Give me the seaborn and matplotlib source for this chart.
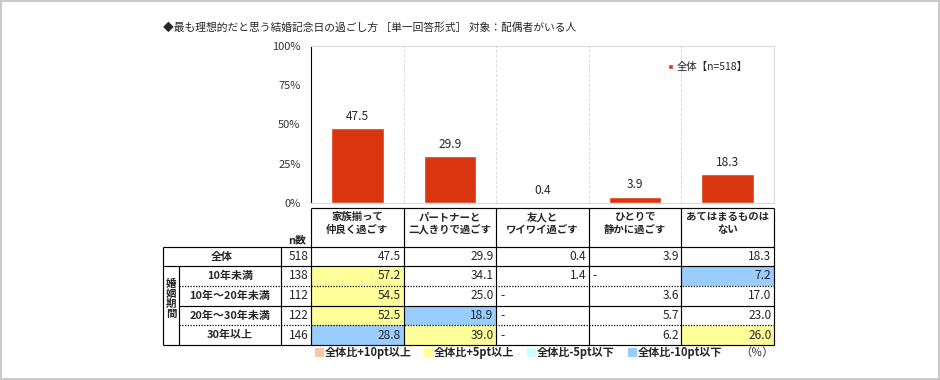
import matplotlib
matplotlib.use("Agg")
import matplotlib.pyplot as plt
import seaborn as sns
import numpy as np
import pandas as pd
from matplotlib.patches import Rectangle

# ---------------- data ----------------
title = "◆最も理想的だと思う結婚記念日の過ごし方 ［単一回答形式］ 対象：配偶者がいる人"
categories = ["家族揃って\n仲良く過ごす", "パートナーと\n二人きりで過ごす", "友人と\nワイワイ過ごす",
              "ひとりで\n静かに過ごす", "あてはまるものは\nない"]
overall_label = "全体"
overall_n = 518
overall_values = [47.5, 29.9, 0.4, 3.9, 18.3]
series_label = "全体【n=518】"
group_label = "婚姻期間"
row_labels = ["10年未満", "10年～20年未満", "20年～30年未満", "30年以上"]
row_n = [138, 112, 122, 146]
row_under10 = [57.2, 34.1, 1.4, None, 7.2]
row_10to20 = [54.5, 25.0, None, 3.6, 17.0]
row_20to30 = [52.5, 18.9, None, 5.7, 23.0]
row_30plus = [28.8, 39.0, None, 6.2, 26.0]
yticks = [0, 25, 50, 75, 100]
ytick_labels = ["0%", "25%", "50%", "75%", "100%"]
legend_labels = ["全体比+10pt以上", "全体比+5pt以上", "全体比-5pt以下", "全体比-10pt以下"]
unit_label = "（％）"
n_label = "n数"

# ---------------- style ----------------
sns.set_theme(style="white")
plt.rcParams["font.family"] = ["Noto Sans CJK JP", "DejaVu Sans"]
BAR_COLOR = "#D9360F"
C_P10, C_P5, C_M5, C_M10 = "#F8C8A4", "#FFFF99", "#CCFFFF", "#99CCFF"
legend_colors = [C_P10, C_P5, C_M5, C_M10]
GRAY = "#D9D9D9"
FS_HEAD = 7.5
FS_LAB = 7.9
FS_NUM = 8.6
FS_LEG = 8.0

W, H = 940, 380
fig = plt.figure(figsize=(W / 100, H / 100), dpi=100)

X0, X1 = 311, 774          # data column area (pixels)
Y_TOP, Y_ZERO = 46, 203    # bar plot area

# ---------------- bar chart ----------------
ax = fig.add_axes([X0 / W, 1 - Y_ZERO / H, (X1 - X0) / W, (Y_ZERO - Y_TOP) / H])
df = pd.DataFrame({"cat": categories, "val": overall_values})
sns.barplot(data=df, x="cat", y="val", color=BAR_COLOR, saturation=1, width=0.57,
            ax=ax, label=series_label)
ax.set_xlim(-0.5, len(categories) - 0.5)
ax.set_ylim(0, 100)
ax.set_yticks(yticks)
ax.set_yticklabels(ytick_labels, fontsize=8, color="#333333")
ax.tick_params(axis="y", direction="in", length=3, width=0.8, color="black", pad=7.5)
ax.set_xticks(np.arange(len(categories) - 1) + 0.5, minor=True)
ax.tick_params(axis="x", which="both", length=0, labelbottom=False)
ax.grid(False)
ax.grid(which="minor", axis="x", color=GRAY, linestyle=(0, (3, 2)), lw=0.7)
ax.set_xlabel("")
ax.set_ylabel("")
for s in ["top", "right", "bottom"]:
    ax.spines[s].set_color(GRAY)
    ax.spines[s].set_linewidth(0.8)
ax.spines["left"].set_color("black")
ax.spines["left"].set_linewidth(0.8)
ax.bar_label(ax.containers[0], labels=[f"{v:.1f}" for v in overall_values],
             padding=4, fontsize=FS_NUM)
ax.legend(loc="center left", bbox_to_anchor=(0.772, 0.866), frameon=False,
          handlelength=0.45, handleheight=0.45, handletextpad=0.35,
          borderpad=0, borderaxespad=0, fontsize=7.5)

# ---------------- table (pixel overlay) ----------------
ov = fig.add_axes([0, 0, 1, 1], facecolor="none")
ov.set_xlim(0, W)
ov.set_ylim(H, 0)
ov.axis("off")

ncol = len(categories)
col_edges = np.linspace(X0, X1, ncol + 1)
col_w = col_edges[1] - col_edges[0]
Y_HEAD_TOP, Y_HEAD_BOT, Y_ALL_BOT = 208, 247, 266
row_h = 19.75
rows = [row_under10, row_10to20, row_20to30, row_30plus]
row_tops = Y_ALL_BOT + row_h * np.arange(len(rows))
Y_BOT = Y_ALL_BOT + row_h * len(rows)
XL0, XG, XN = 163, 179, 281


def cell_color(v, base):
    if v is None:
        return None
    d = round(v - base, 1)
    if d >= 10:
        return C_P10
    if d >= 5:
        return C_P5
    if d <= -10:
        return C_M10
    if d <= -5:
        return C_M5
    return None


# header
for j, cat in enumerate(categories):
    ov.text(col_edges[j] + col_w / 2, 223.5, cat, ha="center", va="center",
            fontsize=FS_HEAD, fontweight="bold", linespacing=1.3)
ov.text((XN + X0) / 2 + 1, 240, n_label, ha="center", va="center", fontsize=FS_LAB, fontweight="bold")

# overall row
ymid = (Y_HEAD_BOT + Y_ALL_BOT) / 2
ov.text((XL0 + XN) / 2, ymid, overall_label, ha="center", va="center", fontsize=FS_LAB, fontweight="bold")
ov.text(X0 - 2.5, ymid, f"{overall_n}", ha="right", va="center", fontsize=FS_NUM)
for j, v in enumerate(overall_values):
    ov.text(col_edges[j + 1] - 2.5, ymid, f"{v:.1f}", ha="right", va="center", fontsize=FS_NUM)

# group rows
for i, (lab, n, vals) in enumerate(zip(row_labels, row_n, rows)):
    top = row_tops[i]
    ym = top + row_h / 2
    ov.text((XG + XN) / 2, ym, lab, ha="center", va="center", fontsize=FS_LAB, fontweight="bold")
    ov.text(X0 - 2.5, ym, f"{n}", ha="right", va="center", fontsize=FS_NUM)
    for j, v in enumerate(vals):
        c = cell_color(v, overall_values[j])
        if c is not None:
            ov.add_patch(Rectangle((col_edges[j], top), col_w, row_h, facecolor=c,
                                   edgecolor="none", zorder=1))
        if v is None:
            ov.text(col_edges[j] + 4, ym, "-", ha="left", va="center", fontsize=FS_NUM, zorder=4)
        else:
            ov.text(col_edges[j + 1] - 2.5, ym, f"{v:.1f}", ha="right", va="center",
                    fontsize=FS_NUM, zorder=4)

# vertical group label, one character per line, tightly stacked
for k, ch in enumerate(group_label):
    ov.text((XL0 + XG) / 2, Y_ALL_BOT + 17.5 + 10.2 * k, ch, ha="center", va="center",
            fontsize=FS_HEAD, fontweight="bold")

# table lines
LW = 0.85
ov.hlines(Y_HEAD_TOP, X0, X1, color="black", lw=LW, zorder=3)
ov.hlines([Y_HEAD_BOT, Y_ALL_BOT, Y_BOT], XL0, X1, color="black", lw=LW, zorder=3)
ov.hlines(row_tops[2], XG, X1, color="black", lw=LW, zorder=3)
ov.hlines([row_tops[1], row_tops[3]], XG, X1, color="black", lw=0.9,
          linestyles=(0, (1, 1.2)), zorder=3)
ov.vlines([XL0, XN], Y_HEAD_BOT, Y_BOT, color="black", lw=LW, zorder=3)
ov.vlines(XG, Y_ALL_BOT, Y_BOT, color="black", lw=LW, zorder=3)
ov.vlines(col_edges, Y_HEAD_TOP, Y_BOT, color="black", lw=LW, zorder=3)

# bottom legend
leg_x = [315, 424, 527, 628]
for x, c, lab in zip(leg_x, legend_colors, legend_labels):
    ov.add_patch(Rectangle((x, 348), 9, 9, facecolor=c, edgecolor="none"))
    ov.text(x + 10, 352.5, lab, ha="left", va="center", fontsize=FS_LEG, fontweight="bold")
ov.text(X1, 352.5, unit_label, ha="right", va="center", fontsize=FS_LEG)

# title
ov.text(163, 27.5, title, ha="left", va="center", fontsize=7.75)

# outer frame
ov.add_patch(Rectangle((1, 1), W - 2.5, H - 2.5, facecolor="none", edgecolor="#C8C8C8", lw=1.4))

fig.savefig("out.png", dpi=100)
